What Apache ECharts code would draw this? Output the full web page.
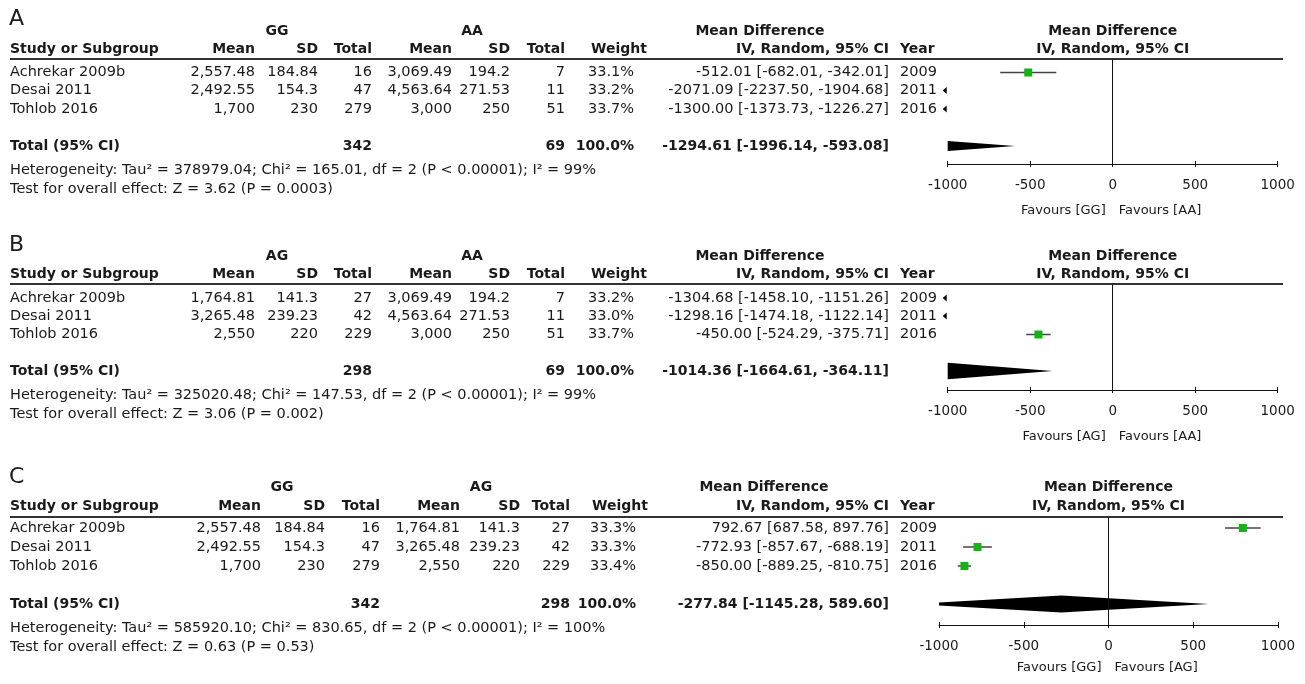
<!DOCTYPE html>
<html><head><meta charset="utf-8">
<script src="https://cdn.jsdelivr.net/npm/echarts@6/dist/echarts.min.js"></script>
<style>html,body{margin:0;padding:0;background:#fff}#main{width:1305px;height:684px}</style>
</head><body><div id="main"></div>
<script>
// ---------- DATA ----------
const studies = ['Achrekar 2009b', 'Desai 2011', 'Tohlob 2016'];
const years = [2009, 2011, 2016];
const axisTicks = [-1000, -500, 0, 500, 1000];
const colHeaders = ['Study or Subgroup', 'Mean', 'SD', 'Total', 'Mean', 'SD', 'Total', 'Weight', 'IV, Random, 95% CI', 'Year'];
const mdHeader = ['Mean Difference', 'IV, Random, 95% CI'];

// Panel A: GG vs AA
const groupsA = ['GG', 'AA'];
const meanA1 = [2557.48, 2492.55, 1700];
const sdA1 = [184.84, 154.3, 230];
const nA1 = [16, 47, 279];
const meanA2 = [3069.49, 4563.64, 3000];
const sdA2 = [194.2, 271.53, 250];
const nA2 = [7, 11, 51];
const weightA = [33.1, 33.2, 33.7];
const mdA = [-512.01, -2071.09, -1300.00];
const loA = [-682.01, -2237.50, -1373.73];
const hiA = [-342.01, -1904.68, -1226.27];
const totalNA = [342, 69];
const totalMdA = [-1294.61, -1996.14, -593.08];
const hetA = 'Heterogeneity: Tau\u00b2 = 378979.04; Chi\u00b2 = 165.01, df = 2 (P < 0.00001); I\u00b2 = 99%';
const testA = 'Test for overall effect: Z = 3.62 (P = 0.0003)';
const favA = ['Favours [GG]', 'Favours [AA]'];

// Panel B: AG vs AA
const groupsB = ['AG', 'AA'];
const meanB1 = [1764.81, 3265.48, 2550];
const sdB1 = [141.3, 239.23, 220];
const nB1 = [27, 42, 229];
const meanB2 = [3069.49, 4563.64, 3000];
const sdB2 = [194.2, 271.53, 250];
const nB2 = [7, 11, 51];
const weightB = [33.2, 33.0, 33.7];
const mdB = [-1304.68, -1298.16, -450.00];
const loB = [-1458.10, -1474.18, -524.29];
const hiB = [-1151.26, -1122.14, -375.71];
const totalNB = [298, 69];
const totalMdB = [-1014.36, -1664.61, -364.11];
const hetB = 'Heterogeneity: Tau\u00b2 = 325020.48; Chi\u00b2 = 147.53, df = 2 (P < 0.00001); I\u00b2 = 99%';
const testB = 'Test for overall effect: Z = 3.06 (P = 0.002)';
const favB = ['Favours [AG]', 'Favours [AA]'];

// Panel C: GG vs AG
const groupsC = ['GG', 'AG'];
const meanC1 = [2557.48, 2492.55, 1700];
const sdC1 = [184.84, 154.3, 230];
const nC1 = [16, 47, 279];
const meanC2 = [1764.81, 3265.48, 2550];
const sdC2 = [141.3, 239.23, 220];
const nC2 = [27, 42, 229];
const weightC = [33.3, 33.3, 33.4];
const mdC = [792.67, -772.93, -850.00];
const loC = [687.58, -857.67, -889.25];
const hiC = [897.76, -688.19, -810.75];
const totalNC = [342, 298];
const totalMdC = [-277.84, -1145.28, 589.60];
const hetC = 'Heterogeneity: Tau\u00b2 = 585920.10; Chi\u00b2 = 830.65, df = 2 (P < 0.00001); I\u00b2 = 100%';
const testC = 'Test for overall effect: Z = 0.63 (P = 0.53)';
const favC = ['Favours [GG]', 'Favours [AG]'];

const panels = [
  {letter: 'A', groups: groupsA, m1: meanA1, s1: sdA1, n1: nA1, m2: meanA2, s2: sdA2, n2: nA2, w: weightA, md: mdA, lo: loA, hi: hiA, tn: totalNA, tmd: totalMdA, het: hetA, test: testA, fav: favA},
  {letter: 'B', groups: groupsB, m1: meanB1, s1: sdB1, n1: nB1, m2: meanB2, s2: sdB2, n2: nB2, w: weightB, md: mdB, lo: loB, hi: hiB, tn: totalNB, tmd: totalMdB, het: hetB, test: testB, fav: favB},
  {letter: 'C', groups: groupsC, m1: meanC1, s1: sdC1, n1: nC1, m2: meanC2, s2: sdC2, n2: nC2, w: weightC, md: mdC, lo: loC, hi: hiC, tn: totalNC, tmd: totalMdC, het: hetC, test: testC, fav: favC}
];

// ---------- LAYOUT ----------
const xAB = {name: 10, g1: 277, g2: 472, m1: 255, sd1: 318, n1: 372, m2: 452, sd2: 510, n2: 565, w: 634, wHdr: 647, ci: 889, ciHdr: 889, year: 900, mdHdr: 760, plotL: 947.7, plotR: 1277.7, lineR: 1283};
const xC = {name: 10, g1: 282, g2: 481, m1: 261, sd1: 325, n1: 380, m2: 460, sd2: 520, n2: 570, w: 636, wHdr: 648, ci: 889, ciHdr: 889, year: 900, mdHdr: 764, plotL: 939, plotR: 1278, lineR: 1283};
const layouts = [
  {x: xAB, y: {letter: 19, grp: 31, hdr: 49, line: 59, rows: [72.5, 90.5, 109], total: 146, het: 170, test: 189, axis: 164, fav: 211}},
  {x: xAB, y: {letter: 245, grp: 256, hdr: 274, line: 284, rows: [298, 316, 334.5], total: 371, het: 395, test: 414, axis: 390, fav: 437}},
  {x: xC, y: {letter: 477, grp: 487, hdr: 506, line: 517, rows: [528, 547, 566], total: 604, het: 628, test: 647, axis: 625, fav: 668}}
];

const FONT = '"DejaVu Sans", "Noto Sans", sans-serif';
const FS = 14.5, FSB = 14;
const TXT = '#1a1a1a';

function fmtNum(v) {
  const parts = String(v).split('.');
  parts[0] = parts[0].replace(/\B(?=(\d{3})+(?!\d))/g, ',');
  return parts.join('.');
}
function fmtCI(md, lo, hi) {
  return md.toFixed(2) + ' [' + lo.toFixed(2) + ', ' + hi.toFixed(2) + ']';
}
function txt(text, x, y, align, bold, size) {
  return {
    type: 'text', x: x, y: y, silent: true,
    style: {
      text: text, x: 0, y: 0,
      font: (bold ? 'bold ' : '') + (size || (bold ? FSB : FS)) + 'px ' + FONT,
      fill: TXT, align: align || 'left', verticalAlign: 'middle',
      textAlign: align || 'left', textVerticalAlign: 'middle'
    }
  };
}

const graphics = [];
const grids = [], xAxes = [], yAxes = [], series = [];

panels.forEach(function (p, pi) {
  const L = layouts[pi], X = L.x, Y = L.y;
  const plotC = (X.plotL + X.plotR) / 2;
  graphics.push(txt(p.letter, 9, Y.letter, 'left', false, 22));
  graphics.push(txt(p.groups[0], X.g1, Y.grp, 'center', true));
  graphics.push(txt(p.groups[1], X.g2, Y.grp, 'center', true));
  graphics.push(txt(mdHeader[0], X.mdHdr, Y.grp, 'center', true));
  graphics.push(txt(mdHeader[0], plotC, Y.grp, 'center', true));
  const hx = [X.name, X.m1, X.sd1, X.n1, X.m2, X.sd2, X.n2, X.wHdr, X.ciHdr, X.year];
  colHeaders.forEach(function (h, i) {
    graphics.push(txt(h, hx[i], Y.hdr, i === 0 || i === 9 ? 'left' : 'right', true));
  });
  graphics.push(txt(mdHeader[1], plotC, Y.hdr, 'center', true));
  graphics.push({type: 'line', silent: true, shape: {x1: X.name, y1: Y.line, x2: X.lineR, y2: Y.line}, style: {stroke: '#333', lineWidth: 2}});
  studies.forEach(function (s, i) {
    const y = Y.rows[i];
    graphics.push(txt(s, X.name, y, 'left'));
    graphics.push(txt(fmtNum(p.m1[i]), X.m1, y, 'right'));
    graphics.push(txt(fmtNum(p.s1[i]), X.sd1, y, 'right'));
    graphics.push(txt(String(p.n1[i]), X.n1, y, 'right'));
    graphics.push(txt(fmtNum(p.m2[i]), X.m2, y, 'right'));
    graphics.push(txt(fmtNum(p.s2[i]), X.sd2, y, 'right'));
    graphics.push(txt(String(p.n2[i]), X.n2, y, 'right'));
    graphics.push(txt(p.w[i].toFixed(1) + '%', X.w, y, 'right'));
    graphics.push(txt(fmtCI(p.md[i], p.lo[i], p.hi[i]), X.ci, y, 'right'));
    graphics.push(txt(String(years[i]), X.year, y, 'left'));
  });
  graphics.push(txt('Total (95% CI)', X.name, Y.total, 'left', true));
  graphics.push(txt(String(p.tn[0]), X.n1, Y.total, 'right', true));
  graphics.push(txt(String(p.tn[1]), X.n2, Y.total, 'right', true));
  graphics.push(txt('100.0%', X.w, Y.total, 'right', true));
  graphics.push(txt(fmtCI(p.tmd[0], p.tmd[1], p.tmd[2]), X.ci, Y.total, 'right', true));
  graphics.push(txt(p.het, X.name, Y.het, 'left'));
  graphics.push(txt(p.test, X.name, Y.test, 'left'));

  graphics.push(txt(p.fav[0], plotC - 7, Y.fav, 'right', false, 13));
  graphics.push(txt(p.fav[1], plotC + 6, Y.fav, 'left', false, 13));

  const d = (Y.total - Y.rows[0]) / 4;
  const gh = Y.axis - Y.line;
  grids.push({left: X.plotL, width: X.plotR - X.plotL, top: Y.line, height: gh, containLabel: false});
  xAxes.push({
    type: 'value', gridIndex: pi, min: axisTicks[0], max: axisTicks[axisTicks.length - 1], interval: 500,
    position: 'bottom', splitLine: {show: false},
    axisLine: {show: true, onZero: false, lineStyle: {color: '#111', width: 1}},
    axisTick: {show: true, length: 3, lineStyle: {color: '#111'}},
    axisLabel: {show: true, margin: 14, fontSize: 13.5, fontFamily: FONT, color: TXT,
      formatter: function (v) { return String(v); }}
  });
  xAxes.push({
    type: 'value', gridIndex: pi, min: axisTicks[0], max: axisTicks[axisTicks.length - 1], interval: 500,
    position: 'top', offset: -gh, splitLine: {show: false}, axisLine: {show: false},
    axisTick: {show: true, inside: false, length: 3, lineStyle: {color: '#111'}}, axisLabel: {show: false}
  });
  yAxes.push({type: 'value', gridIndex: pi, inverse: true, show: false,
    min: -(Y.rows[0] - Y.line) / d, max: (Y.axis - Y.rows[0]) / d});

  const studyData = studies.map(function (s, i) {
    return [p.md[i], (Y.rows[i] - Y.rows[0]) / d, p.lo[i], p.hi[i]];
  });
  series.push({
    type: 'custom', xAxisIndex: pi * 2, yAxisIndex: pi, data: studyData, silent: true, z: 3,
    renderItem: function (params, api) {
      const md = api.value(0), r = api.value(1), lo = api.value(2), hi = api.value(3);
      const pL = api.coord([-1000, r]), pR = api.coord([1000, r]);
      const y = pL[1];
      const children = [];
      function arrow(xEdge, dir) {
        children.push({type: 'polygon', shape: {points: [[xEdge + dir * 5, y], [xEdge + dir * 1, y - 3.5], [xEdge + dir * 1, y + 3.5]]}, style: {fill: '#000'}});
      }
      if (hi < -1000) { arrow(pL[0], -1); return {type: 'group', children: children}; }
      if (lo > 1000) { arrow(pR[0], 1); return {type: 'group', children: children}; }
      const x1 = api.coord([Math.max(lo, -1000), r])[0];
      const x2 = api.coord([Math.min(hi, 1000), r])[0];
      children.push({type: 'line', shape: {x1: x1, y1: y, x2: x2, y2: y}, style: {stroke: '#444', lineWidth: 1.5}});
      if (md >= -1000 && md <= 1000) {
        const xm = api.coord([md, r])[0];
        children.push({type: 'rect', shape: {x: xm - 4, y: y - 4, width: 8, height: 8}, style: {fill: '#16b216'}});
      }
      if (lo < -1000) arrow(pL[0], -1);
      if (hi > 1000) arrow(pR[0], 1);
      return {type: 'group', children: children};
    }
  });
  series.push({
    type: 'custom', xAxisIndex: pi * 2, yAxisIndex: pi, silent: true, z: 2,
    data: [[p.tmd[0], 4, p.tmd[1], p.tmd[2]]],
    renderItem: function (params, api) {
      const r = api.value(1);
      const h = 8.5;
      const cM = api.coord([api.value(0), r]), cL = api.coord([api.value(2), r]), cR = api.coord([api.value(3), r]);
      let pts = [[cL[0], cM[1]], [cM[0], cM[1] - h], [cR[0], cM[1]], [cM[0], cM[1] + h]];
      const xmin = api.coord([-1000, r])[0], xmax = api.coord([1000, r])[0];
      function clip(points, inside, intersect) {
        const out = [];
        for (let i = 0; i < points.length; i++) {
          const a = points[i], b = points[(i + 1) % points.length];
          const ia = inside(a), ib = inside(b);
          if (ia) out.push(a);
          if (ia !== ib) out.push(intersect(a, b));
        }
        return out;
      }
      function ix(xc) {
        return function (a, b) { const t = (xc - a[0]) / (b[0] - a[0]); return [xc, a[1] + t * (b[1] - a[1])]; };
      }
      pts = clip(pts, function (q) { return q[0] >= xmin; }, ix(xmin));
      pts = clip(pts, function (q) { return q[0] <= xmax; }, ix(xmax));
      return {type: 'polygon', shape: {points: pts}, style: {fill: '#000'}};
    },
    markLine: {silent: true, symbol: 'none', label: {show: false}, lineStyle: {color: '#111', width: 1, type: 'solid'}, data: [{xAxis: 0}]}
  });
});

const chart = echarts.init(document.getElementById('main'), null, {renderer: 'canvas'});
chart.setOption({
  animation: false,
  backgroundColor: '#fff',
  grid: grids, xAxis: xAxes, yAxis: yAxes, series: series,
  graphic: {elements: graphics}
});
</script>
</body></html>
